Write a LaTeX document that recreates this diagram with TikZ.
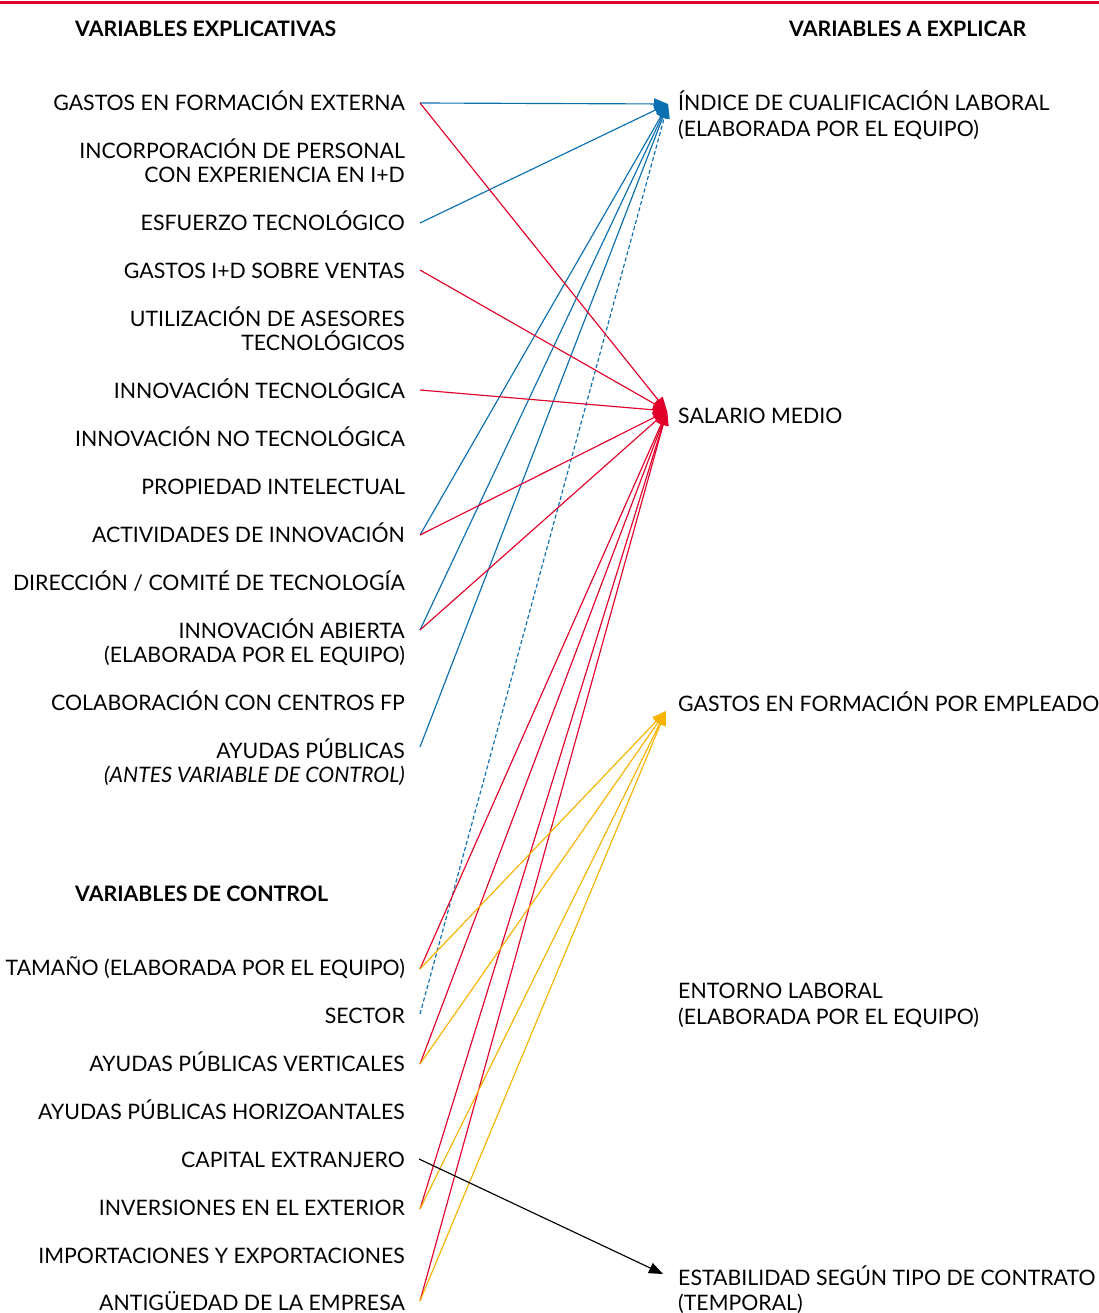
\documentclass[tikz,border=0pt]{standalone}
\usepackage{fontspec}
\setmainfont{Lato}
\usetikzlibrary{arrows.meta}
\definecolor{lred}{HTML}{E2002B}
\definecolor{lblue}{HTML}{0A70B2}
\definecolor{lyellow}{HTML}{F6B400}
\begin{document}
\begin{tikzpicture}[x=1pt,y=-1pt,
  lft/.style={inner sep=0pt,anchor=base east,align=right,font=\fontsize{21.3}{24}\selectfont},
  rgt/.style={inner sep=0pt,anchor=base west,align=left,font=\fontsize{21.3}{26}\selectfont},
  head/.style={inner sep=0pt,anchor=base west,font=\fontsize{21.3}{24}\selectfont\bfseries},
  link/.style={line width=1.15pt,-{Triangle[length=14pt,width=11pt]}},
  bl/.style={link,lblue},
  rd/.style={link,lred},
  yl/.style={link,lyellow},
  bk/.style={link,black},
  dsh/.style={bl,dashed,dash pattern=on 4pt off 2.5pt}]
\useasboundingbox (0,0) rectangle (1099,1313);
\fill[white] (0,0) rectangle (1099,1313);
\draw[lred,line width=3pt] (0,3) -- (1099,3);

% headings
\node[head] (hexp) at (75,36.5) {VARIABLES EXPLICATIVAS};
\node[head] (haexp) at (789,36.5) {VARIABLES A EXPLICAR};
\node[head] (hctl) at (75,901.5) {VARIABLES DE CONTROL};

% explanatory variables (base anchor sits on the last line)
\node[lft] (v1) at (405,110.5) {GASTOS EN FORMACIÓN EXTERNA};
\node[lft] (v2) at (405,182.5) {INCORPORACIÓN DE PERSONAL\\CON EXPERIENCIA EN I+D};
\node[lft] (v3) at (405,230.5) {ESFUERZO TECNOLÓGICO};
\node[lft] (v4) at (405,278.5) {GASTOS I+D SOBRE VENTAS};
\node[lft] (v5) at (405,350.5) {UTILIZACIÓN DE ASESORES\\TECNOLÓGICOS};
\node[lft] (v6) at (405,398.5) {INNOVACIÓN TECNOLÓGICA};
\node[lft] (v7) at (405,446.5) {INNOVACIÓN NO TECNOLÓGICA};
\node[lft] (v8) at (405,494.5) {PROPIEDAD INTELECTUAL};
\node[lft] (v9) at (405,542.5) {ACTIVIDADES DE INNOVACIÓN};
\node[lft] (v10) at (405,590.5) {DIRECCIÓN / COMITÉ DE TECNOLOGÍA};
\node[lft] (v11) at (405,662.5) {INNOVACIÓN ABIERTA\\(ELABORADA POR EL EQUIPO)};
\node[lft] (v12) at (405,710.5) {COLABORACIÓN CON CENTROS FP};
\node[lft] (v13) at (405,782.5) {AYUDAS PÚBLICAS\\\textit{(ANTES VARIABLE DE CONTROL)}};

% control variables
\node[lft] (c1) at (405,975.5) {TAMAÑO (ELABORADA POR EL EQUIPO)};
\node[lft] (c2) at (405,1023.5) {SECTOR};
\node[lft] (c3) at (405,1071.5) {AYUDAS PÚBLICAS VERTICALES};
\node[lft] (c4) at (405,1119.5) {AYUDAS PÚBLICAS HORIZOANTALES};
\node[lft] (c5) at (405,1167.5) {CAPITAL EXTRANJERO};
\node[lft] (c6) at (405,1215.5) {INVERSIONES EN EL EXTERIOR};
\node[lft] (c7) at (405,1263.5) {IMPORTACIONES Y EXPORTACIONES};
\node[lft] (c8) at (405,1310.5) {ANTIGÜEDAD DE LA EMPRESA};

% variables to explain
\node[rgt] (d1) at (678,136.5) {ÍNDICE DE CUALIFICACIÓN LABORAL\\(ELABORADA POR EL EQUIPO)};
\node[rgt] (d2) at (678,423.5) {SALARIO MEDIO};
\node[rgt] (d3) at (678,711.5) {GASTOS EN FORMACIÓN POR EMPLEADO};
\node[rgt] (d4) at (678,1024.5) {ENTORNO LABORAL\\(ELABORADA POR EL EQUIPO)};
\node[rgt,font=\fontsize{21.3}{25}\selectfont] (d5) at (678,1310.5) {ESTABILIDAD SEGÚN TIPO DE CONTRATO\\(TEMPORAL)};

% connector ends
\coordinate (p1) at (420,103);
\coordinate (p3) at (420,223);
\coordinate (p4) at (420,270);
\coordinate (p6) at (420,390);
\coordinate (p9) at (420,535);
\coordinate (p11) at (420,630);
\coordinate (p13) at (420,747);
\coordinate (q1) at (420,969);
\coordinate (q2) at (420,1014);
\coordinate (q3) at (420,1064);
\coordinate (q5) at (419,1159);
\coordinate (q6) at (420,1209);
\coordinate (q8) at (420,1301);
\coordinate (t1) at (668,104);
\coordinate (t2) at (667,411);
\coordinate (t3) at (666,711);
\coordinate (t5) at (663,1274);

% effects on the qualification index
\draw[bl] (p1) -- (t1);
\draw[bl] (p3) -- (t1);
\draw[bl] (p9) -- (t1);
\draw[bl] (p11) -- (t1);
\draw[bl] (p13) -- (t1);
\draw[dsh] (q2) -- (t1);

% effects on the average wage
\draw[rd] (p1) -- (t2);
\draw[rd] (p4) -- (t2);
\draw[rd] (p6) -- (t2);
\draw[rd] (p9) -- (t2);
\draw[rd] (p11) -- (t2);
\draw[rd] (q1) -- (t2);
\draw[rd] (q3) -- (t2);
\draw[rd] (q6) -- (t2);
\draw[rd] (q8) -- (t2);

% effects on training expenditure
\draw[yl] (q1) -- (t3);
\draw[yl] (q3) -- (t3);
\draw[yl] (q6) -- (t3);
\draw[yl] (q8) -- (t3);

% effect on contract stability
\draw[bk] (q5) -- (t5);
\end{tikzpicture}
\end{document}
